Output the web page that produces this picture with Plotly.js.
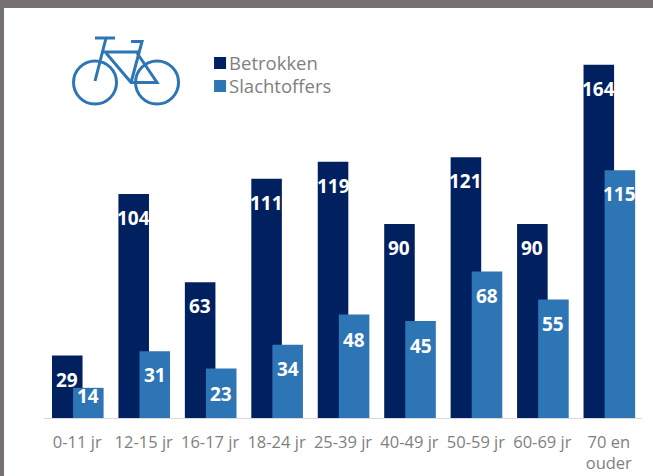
<!DOCTYPE html>
<html><head><meta charset="utf-8">
<script src="https://cdn.plot.ly/plotly-3.0.1.min.js"></script>
<style>html,body{margin:0;padding:0;background:#fff;overflow:hidden}</style>
</head><body><div id="chart" style="width:653px;height:476px"></div>
<script>
const categories = ["0-11 jr","12-15 jr","16-17 jr","18-24 jr","25-39 jr","40-49 jr","50-59 jr","60-69 jr","70 en<br>ouder"];
const betrokken = [29,104,63,111,119,90,121,90,164];
const slachtoffers = [14,31,23,34,48,45,68,55,115];
const slachtofferLabelDrop = [8,24,26,24,25,25,24,24,24];

const W=653,H=476,L=44,R=641.8,T=41,B=418;
const px=x=>(x-L)/(R-L), py=y=>(B-y)/(B-T);
const iconColor="#2E75B6";
const line=(pts,w)=>({type:"path",xref:"paper",yref:"paper",
  path:"M"+pts.map(p=>px(p[0])+" "+py(p[1])).join(" L"),
  line:{color:iconColor,width:w||3}});
const wheel=(cx,cy,r)=>({type:"circle",xref:"paper",yref:"paper",
  x0:px(cx-r),x1:px(cx+r),y0:py(cy+r),y1:py(cy-r),line:{color:iconColor,width:3}});
const shapes=[
  {type:"rect",xref:"paper",yref:"paper",x0:px(0),x1:px(W),y0:py(0),y1:py(8),fillcolor:"#767170",line:{width:0}},
  {type:"rect",xref:"paper",yref:"paper",x0:px(0),x1:px(4),y0:py(0),y1:py(H),fillcolor:"#767170",line:{width:0}},
  wheel(95,82.5,21.5),wheel(157,82.5,21.5),
  line([[95,38],[115,38]]),
  line([[106,38],[95,81]]),
  line([[102,52],[138,52]]),
  line([[106,53],[131,82.5],[157,82.5],[137,53]]),
  line([[131,41.5],[142,41.5],[131,82.5]])
];
const W1=0.46, O1=-0.38, O2=-0.063;
const ann=(vals,off,drop)=>vals.map((v,i)=>({x:i+off+W1/2,y:v,xref:"x",yref:"y",text:"<b>"+v+"</b>",showarrow:false,
  yshift:-(drop?drop[i]:24),yanchor:"middle",font:{family:"Open Sans, sans-serif",size:19,color:"#fff"}}));
const layout={width:W,height:H,margin:{l:L,r:W-R,t:T,b:H-B},paper_bgcolor:"#fff",plot_bgcolor:"#fff",
  barmode:"overlay",showlegend:true,
  legend:{x:px(200),y:py(44.5),xanchor:"left",yanchor:"top",bgcolor:"rgba(0,0,0,0)",itemwidth:30,
    font:{family:"Open Sans, sans-serif",size:18.5,color:"#7f7f7f"},itemclick:false,itemdoubleclick:false},
  xaxis:{type:"category",range:[-0.5,8.5],tickmode:"array",tickvals:categories.map((c,i)=>i),ticktext:categories,
    showline:true,linecolor:"#d9d9d9",linewidth:1,showgrid:false,ticks:"",
    tickfont:{family:"Open Sans, sans-serif",size:16.5,color:"#7f7f7f"},ticklabelstandoff:9,fixedrange:true},
  yaxis:{range:[0,175],visible:false,showgrid:false,zeroline:false,fixedrange:true},
  shapes:shapes,
  annotations:ann(betrokken,O1).concat(ann(slachtoffers,O2,slachtofferLabelDrop))
};
const data=[
 {type:"bar",name:"Betrokken",x:categories.map((c,i)=>i),y:betrokken,width:W1,offset:O1,marker:{color:"#002060"},hoverinfo:"x+y"},
 {type:"bar",name:"Slachtoffers",x:categories.map((c,i)=>i),y:slachtoffers,width:W1,offset:O2,marker:{color:"#2E75B6"},hoverinfo:"x+y"}
];
Plotly.newPlot("chart",data,layout,{displayModeBar:false}).then(()=>{
  document.querySelectorAll(".legendtext").forEach(t=>t.setAttribute("x","29"));
  const rows=document.querySelectorAll(".legend .traces");
  if(rows[1]){
    const m=/translate\(([-\d.]+)[, ]+([-\d.]+)\)/.exec(rows[1].getAttribute("transform")||"");
    const m0=/translate\(([-\d.]+)[, ]+([-\d.]+)\)/.exec(rows[0].getAttribute("transform")||"");
    if(m&&m0) rows[1].setAttribute("transform","translate("+m[1]+","+(parseFloat(m0[2])+23)+")");
  }
});
</script></body></html>
